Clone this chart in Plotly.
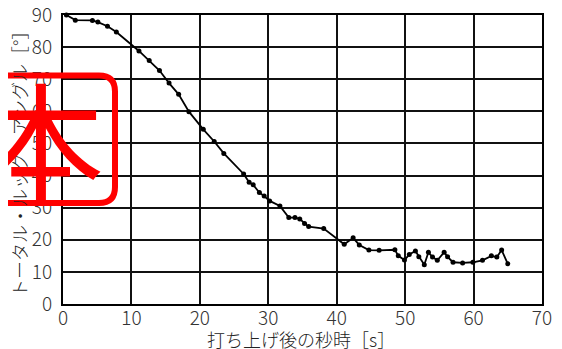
import plotly.graph_objects as go

# Data (time after launch [s], total look angle [deg])
time_s = [0.5, 1.8, 4.3, 5.1, 6.5, 7.8, 11.1, 12.6, 14.1, 15.5, 16.9, 18.4, 20.5, 22.1,
          23.5, 26.4, 27.2, 27.8, 28.7, 29.4, 30.2, 31.7, 33.0, 33.9, 34.6, 35.3, 35.9,
          38.1, 41.1, 42.4, 43.3, 44.7, 46.2, 48.5, 49.0, 49.9, 50.6, 51.5, 52.0, 52.8,
          53.4, 54.0, 54.7, 55.7, 56.2, 57.0, 58.4, 59.9, 61.3, 62.6, 63.4, 64.1, 65.0]
angle_deg = [90.0, 88.4, 88.3, 87.8, 86.5, 84.7, 78.8, 75.8, 72.7, 68.8, 65.3, 59.9, 54.4, 50.6,
             46.9, 40.5, 37.9, 37.1, 34.7, 33.6, 32.1, 30.5, 26.9, 26.9, 26.5, 25.1, 24.1,
             23.5, 18.6, 20.6, 18.4, 16.8, 16.7, 16.9, 15.0, 13.7, 15.4, 16.5, 14.7, 12.2,
             16.1, 14.6, 13.6, 16.1, 14.7, 13.0, 12.8, 13.0, 13.6, 15.0, 14.6, 16.8, 12.5]

x_ticks = [0, 10, 20, 30, 40, 50, 60, 70]
y_ticks = [0, 10, 20, 30, 40, 50, 60, 70, 80, 90]
x_title = "打ち上げ後の秒時［s］"
y_title = "トータル・ルック・アングル［°］"
stamp_text = "本"

FONT = "Noto Sans CJK JP, Noto Sans, sans-serif"

fig = go.Figure()
fig.add_trace(go.Scatter(
    x=time_s, y=angle_deg, mode="lines+markers",
    line=dict(color="#000000", width=1.8),
    marker=dict(color="#000000", size=5),
    showlegend=False, cliponaxis=False,
))

# page body has an 8px margin: size the figure so the plot lands at screen 63..542 x 15..304
OFF = 8
W, H = 562 - OFF, 349 - OFF
L, R, T, B = 63 - OFF, 20, 15 - OFF, 45
pw, ph = W - L - R, H - T - B

def px2x(px):
    return (px - 63) / pw

def py2y(py):
    return (304 - py) / ph

axis_common = dict(
    showgrid=True, gridcolor="#111111",
    showline=True, linecolor="#000000", linewidth=2, mirror=True,
    ticks="", zeroline=False, automargin=False, ticklabeloverflow="allow",
    tickfont=dict(family=FONT, size=19, color="#333333", weight=300),
)

fig.update_layout(
    width=W, height=H,
    margin=dict(l=L, r=R, t=T, b=B, autoexpand=False),
    paper_bgcolor="white", plot_bgcolor="white",
    xaxis=dict(range=[0, 70], tickvals=x_ticks, gridwidth=1.5, ticklabelstandoff=-4, **axis_common),
    yaxis=dict(range=[0, 90], tickvals=y_ticks, gridwidth=2, ticklabelstandoff=5, **axis_common),
)

# axis titles
fig.add_annotation(text=x_title, xref="paper", yref="paper",
                   x=px2x(301), y=py2y(339), showarrow=False,
                   xanchor="center", yanchor="middle",
                   font=dict(family=FONT, size=18, color="#222222", weight=300))
fig.add_annotation(text=y_title, xref="paper", yref="paper",
                   x=px2x(19), y=py2y(160), showarrow=False, textangle=-90,
                   xanchor="center", yanchor="middle",
                   font=dict(family=FONT, size=18, color="#222222", weight=300))

# red stamp
left, right, top, bottom, r = -20, 115, 75.5, 203, 16
path = (f"M {px2x(left)},{py2y(top)} "
        f"L {px2x(right - r)},{py2y(top)} "
        f"Q {px2x(right)},{py2y(top)} {px2x(right)},{py2y(top + r)} "
        f"L {px2x(right)},{py2y(bottom - r)} "
        f"Q {px2x(right)},{py2y(bottom)} {px2x(right - r)},{py2y(bottom)} "
        f"L {px2x(left)},{py2y(bottom)}")
fig.add_shape(type="path", path=path, xref="paper", yref="paper",
              line=dict(color="#ff0000", width=6), layer="above")
fig.add_annotation(text=stamp_text, xref="paper", yref="paper",
                   x=px2x(41), y=py2y(135), showarrow=False,
                   xanchor="center", yanchor="middle",
                   font=dict(family=FONT, size=126, color="#ff0000"))

fig.write_html("out.html")
